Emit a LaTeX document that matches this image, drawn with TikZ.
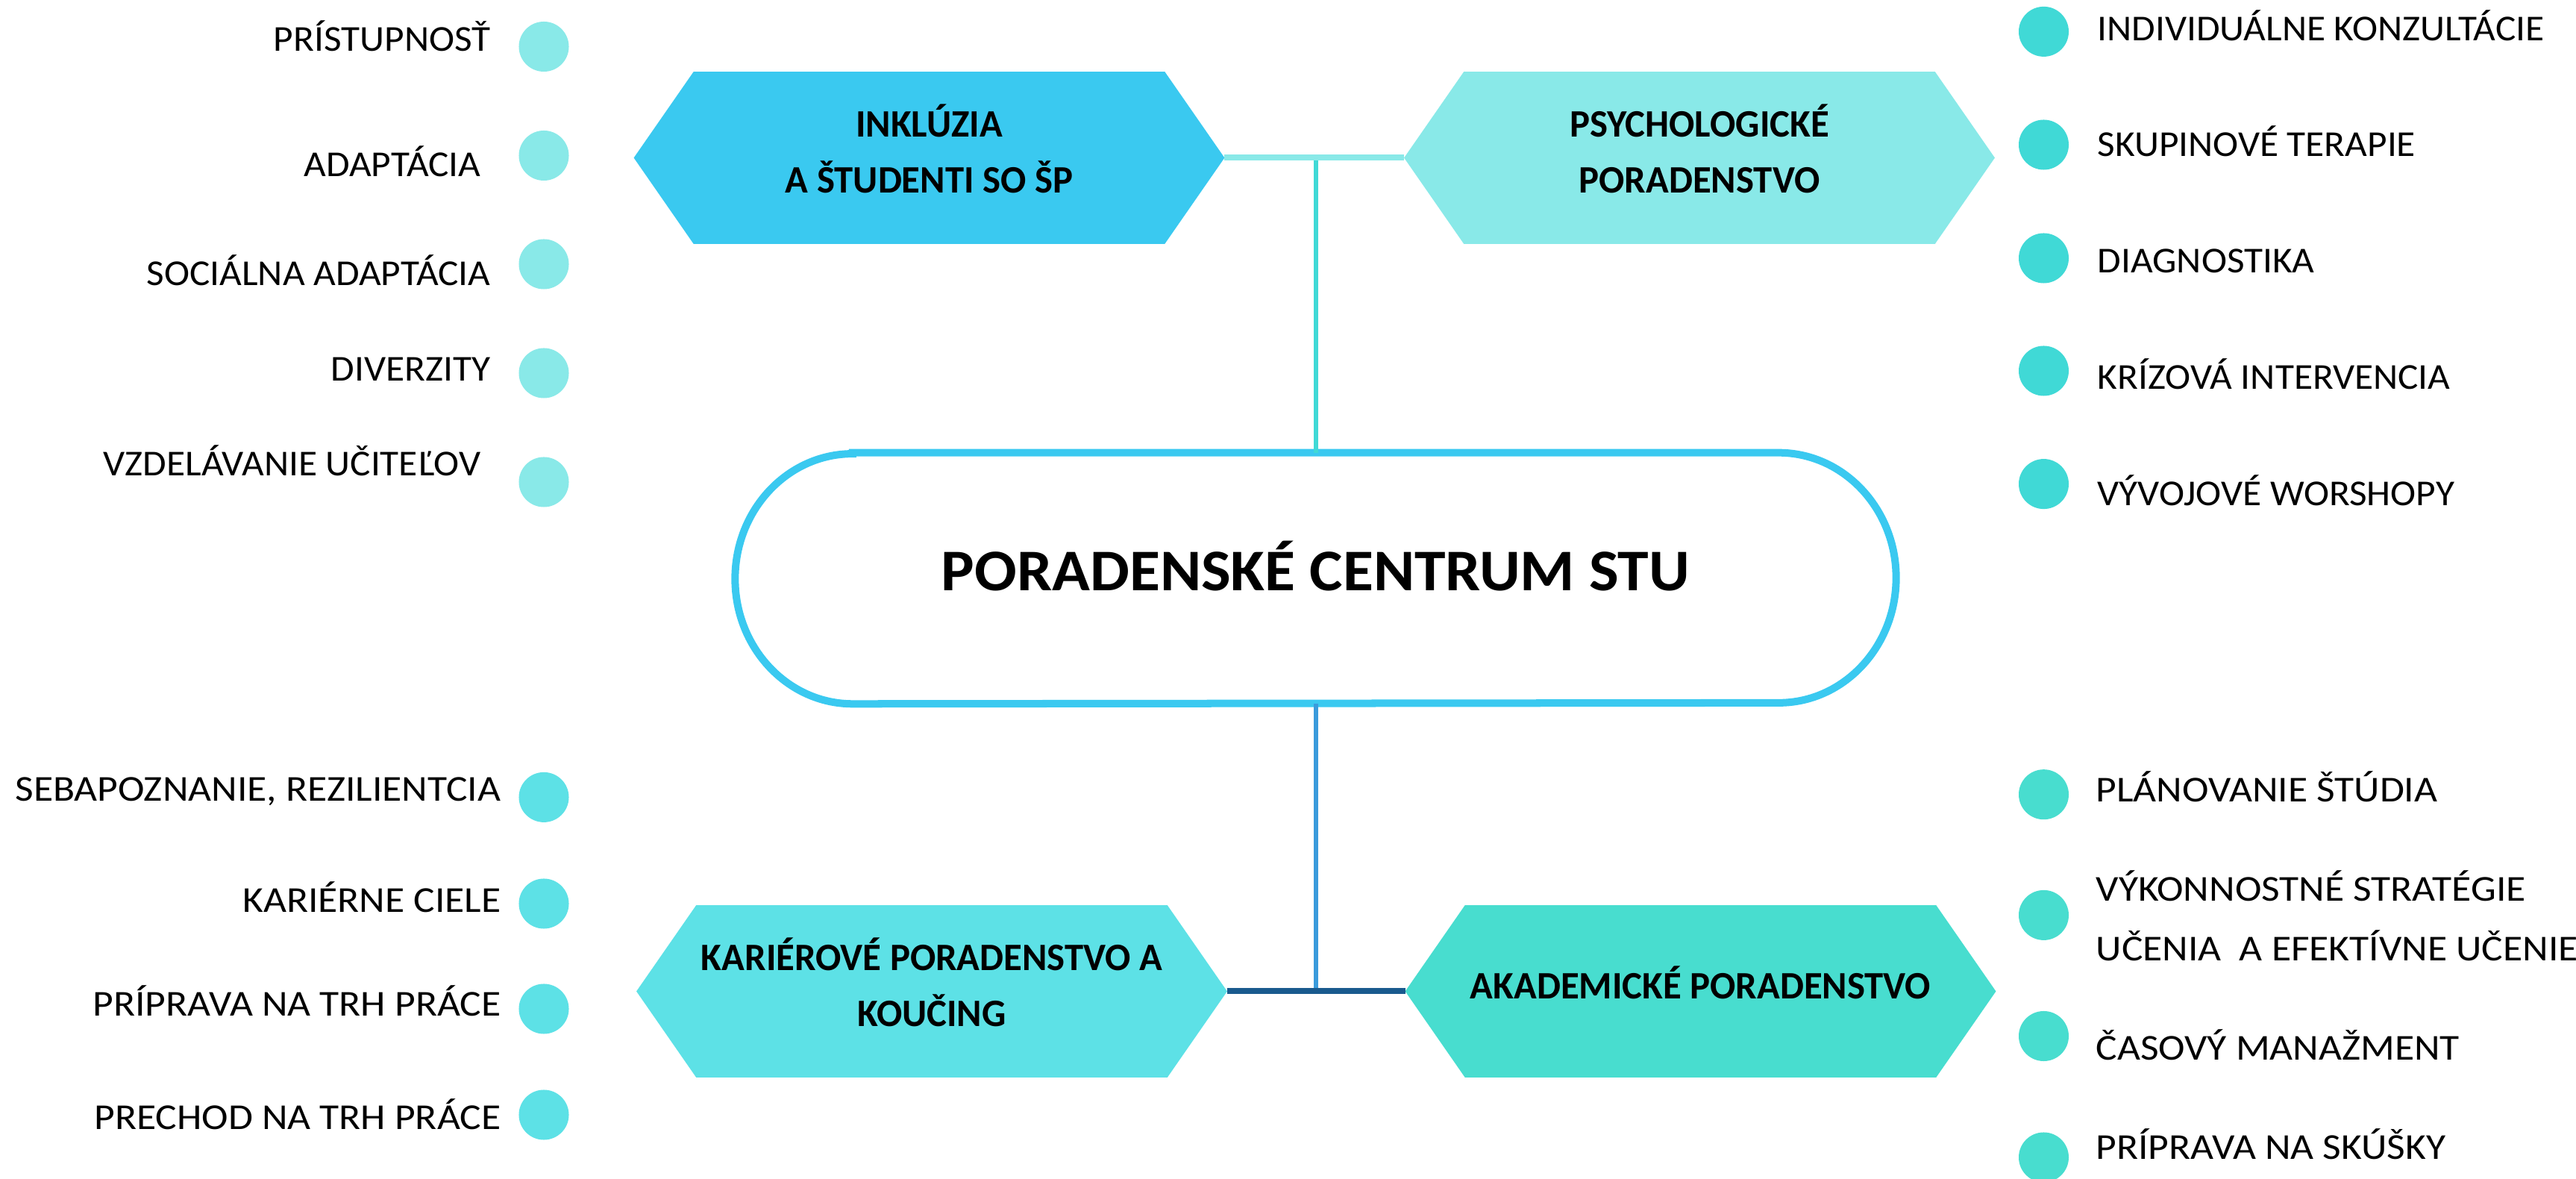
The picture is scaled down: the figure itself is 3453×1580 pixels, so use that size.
\documentclass[tikz,border=0pt]{standalone}
\usepackage{fontspec}
\setmainfont{Carlito}
\newfontfamily\topfont{Carlito}[FakeStretch=1.05]
\newfontfamily\lowfont{Carlito}[FakeStretch=1.095]
\newfontfamily\hexfont{Carlito}[FakeStretch=0.975]
\newfontfamily\midfont{Carlito}[FakeStretch=1.06]
\usetikzlibrary{backgrounds}
\definecolor{inklblue}{HTML}{3AC9F0}
\definecolor{psychaqua}{HTML}{89E9E8}
\definecolor{psychdot}{HTML}{40D9D6}
\definecolor{karcyan}{HTML}{5DE1E6}
\definecolor{akadteal}{HTML}{48DDCF}
\definecolor{linkblue}{HTML}{3A9BDC}
\definecolor{linknavy}{HTML}{1A5A8E}
\tikzset{
 hexbox/.style={minimum width=7.9cm,minimum height=2.29cm,inner sep=0pt,align=center,
  font=\hexfont\fontsize{14.8pt}{21.3pt}\selectfont\bfseries,
  execute at end node={\rule[-0.24cm]{0pt}{0pt}}},
 dot/.style={circle,minimum size=0.67cm,inner sep=0pt},
 item/.style={inner sep=0pt,font=#1\fontsize{13.9pt}{22.76pt}\selectfont},
}
% hexagon behind a hexbox node
\newcommand\hexfill[2]{%
 \fill[#2] (#1.west) -- ([xshift=0.8cm]#1.north west) -- ([xshift=-0.8cm]#1.north east)
 -- (#1.east) -- ([xshift=-0.8cm]#1.south east) -- ([xshift=0.8cm]#1.south west) -- cycle;}
\begin{document}
\begin{tikzpicture}[x=0.01cm,y=0.01cm]
 \useasboundingbox (0,0) rectangle (3453,-1580);
 % centre
 \node[minimum width=15.54cm,minimum height=3.35cm,inner sep=0pt,
  font=\midfont\fontsize{22.5pt}{27pt}\selectfont\bfseries,
  execute at end node={\rule[-0.34cm]{0pt}{0pt}}] (centre) at (1763.5,-775) {PORADENSKÉ CENTRUM STU};
 \draw[inklblue,line width=0.1cm]
 ([xshift=1.575cm]centre.north west) -- ([xshift=-1.575cm]centre.north east)
 arc[start angle=90,end angle=-90,x radius=1.575cm,y radius=1.675cm]
 -- ([xshift=1.575cm]centre.south west)
 arc[start angle=270,end angle=90,x radius=1.575cm,y radius=1.675cm] -- cycle;
 % hexes
 \node[hexbox] (inkl) at (1245.5,-211.5) {INKLÚZIA\\A ŠTUDENTI SO ŠP};
 \node[hexbox] (psych) at (2278,-211.5) {PSYCHOLOGICKÉ\\PORADENSTVO};
 \node[hexbox] (kariera) at (1249,-1328.5) {KARIÉROVÉ PORADENSTVO A\\KOUČING};
 \node[hexbox] (akad) at (2279.5,-1328.5) {AKADEMICKÉ PORADENSTVO};
 \begin{scope}[on background layer]
 \hexfill{inkl}{inklblue}
 \hexfill{psych}{psychaqua}
 \hexfill{kariera}{karcyan}
 \hexfill{akad}{akadteal}
 \end{scope}
 % connectors
 \draw[psychdot,line width=0.06cm] (centre.north) -- (centre.north |- inkl.east);
 \draw[psychaqua,line width=0.08cm] (inkl.east) -- (psych.west);
 \draw[linkblue,line width=0.06cm] (centre.south) -- (centre.south |- kariera.east);
 \draw[linknavy,line width=0.08cm] (kariera.east) -- (akad.west);
 % inkluzia items
 \foreach \dy/\by/\rx/\txt [count=\i] in {62.5/69/658/PRÍSTUPNOSŤ,208.5/237/645/ADAPTÁCIA,
  354/383/658/SOCIÁLNA ADAPTÁCIA,500/511/658/DIVERZITY,646/638/645/VZDELÁVANIE UČITEĽOV}{
 \node[dot,fill=psychaqua] (inkldot\i) at (729,-\dy) {};
 \node[item=\topfont,anchor=base east] (inklitem\i) at (\rx,-\by) {\txt};
 }
 % psychologicke items
 \foreach \dy/\by/\txt [count=\i] in {42.4/54.5/INDIVIDUÁLNE KONZULTÁCIE,194/210/SKUPINOVÉ TERAPIE,
  346/366/DIAGNOSTIKA,497/522/KRÍZOVÁ INTERVENCIA,648.6/678/VÝVOJOVÉ WORSHOPY}{
 \node[dot,fill=psychdot] (psychdot\i) at (2739.5,-\dy) {};
 \node[item=\topfont,anchor=base west] (psychitem\i) at (2811,-\by) {\txt};
 }
 % karierove items
 \foreach \dy/\by/\txt [count=\i] in {1068.4/1074/{SEBAPOZNANIE, REZILIENTCIA},1211/1223/KARIÉRNE CIELE,
  1352/1362/PRÍPRAVA NA TRH PRÁCE,1494/1514/PRECHOD NA TRH PRÁCE}{
 \node[dot,fill=karcyan] (kardot\i) at (729,-\dy) {};
 \node[item=\lowfont,anchor=base east] (karitem\i) at (672,-\by) {\txt};
 }
 % akademicke items
 \foreach \dy/\by/\txt [count=\i] in {1064.7/1074.7/PLÁNOVANIE ŠTÚDIA,1226.4/1288/{VÝKONNOSTNÉ STRATÉGIE\\UČENIA\ \ A EFEKTÍVNE UČENIE},
  1388.5/1421/ČASOVÝ MANAŽMENT,1551/1554/PRÍPRAVA NA SKÚŠKY}{
 \node[dot,fill=akadteal] (akaddot\i) at (2739.5,-\dy) {};
 \node[item=\lowfont,anchor=base west,align=left] (akaditem\i) at (2809,-\by) {\txt};
 }
\end{tikzpicture}
\end{document}
